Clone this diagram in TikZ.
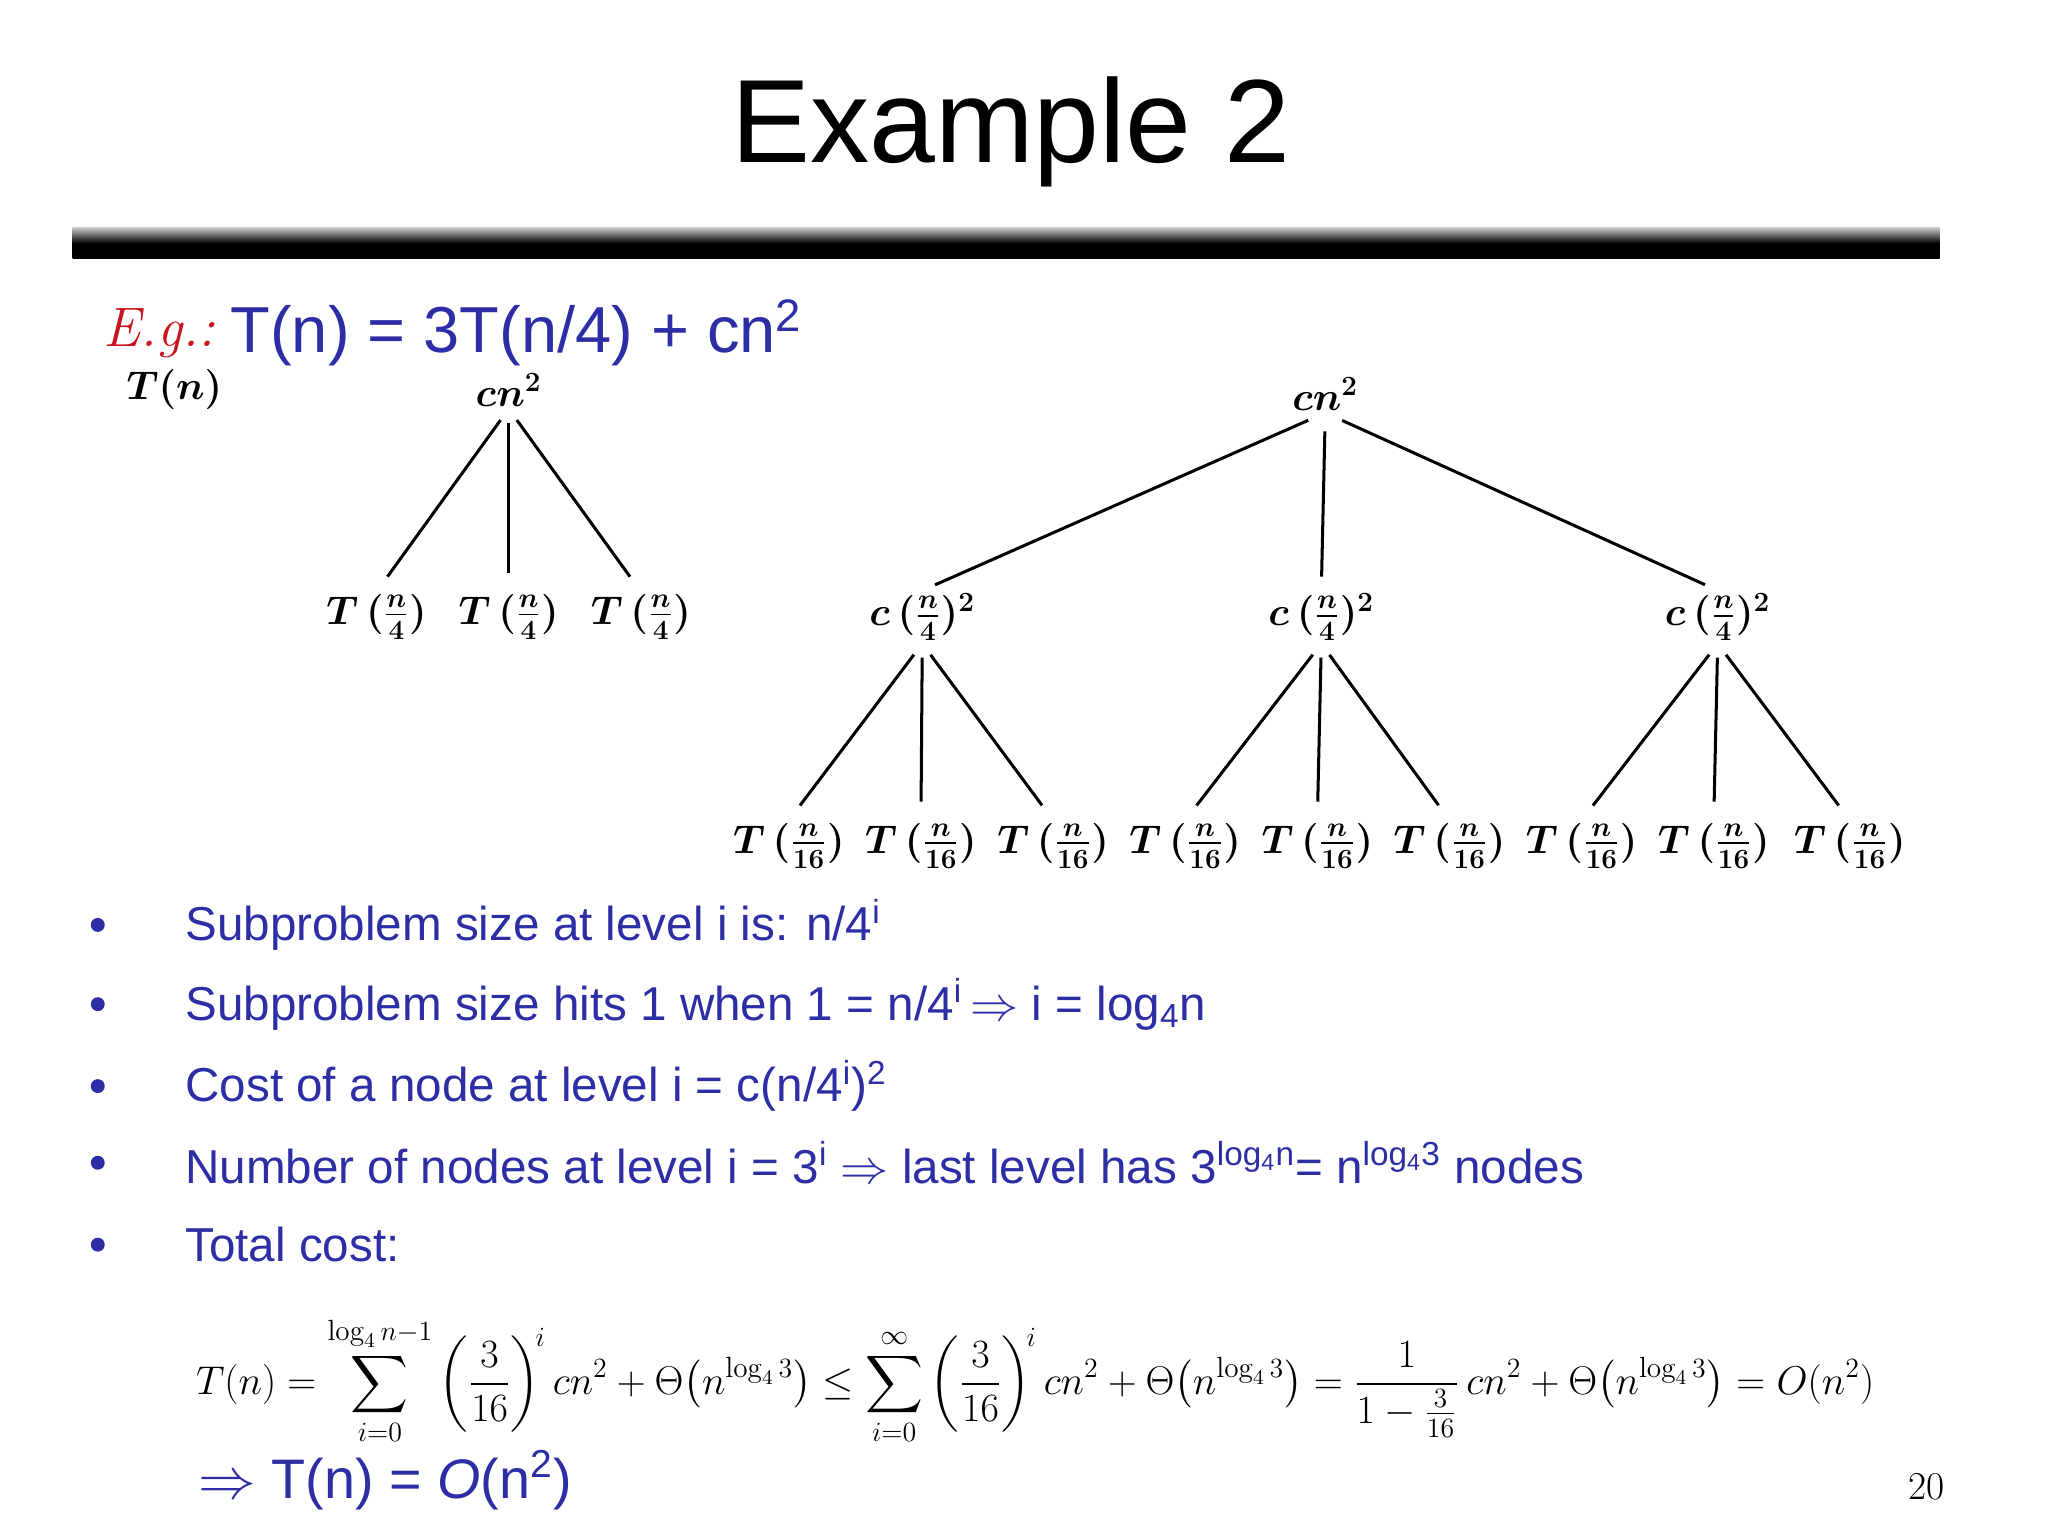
\documentclass[tikz,border=0pt]{standalone}
\usepackage{amsmath}
\usepackage{fontspec}
\newfontfamily\slidefont{Liberation Sans}
\usetikzlibrary{positioning}
\definecolor{slideblue}{RGB}{45,45,165}
\definecolor{egred}{RGB}{200,20,30}
\begin{document}
\begin{tikzpicture}[x=0.02cm,y=-0.02cm,
	treelabel/.style={inner sep=1pt,font=\fontsize{17}{20}\selectfont\boldmath},
	bullettext/.style={anchor=west,inner sep=0pt,text=slideblue,font=\slidefont\fontsize{20.5}{24}\selectfont},
	bulletdot/.style={circle,fill=slideblue,inner sep=0pt,minimum size=6pt},
	edge/.style={line width=1.3pt}
	]
	\useasboundingbox (0,0) rectangle (1550,1162);
	% title and bar
	\node[font=\slidefont\fontsize{51}{56}\selectfont] (title) at (765,100) {Example 2};
	\shade[top color=gray!40,bottom color=black,middle color=black] (55,172) rectangle (1468,196);
	% recurrence
	\node[anchor=west,inner sep=0pt,text=egred,font=\fontsize{24}{28}\selectfont\itshape] (eg) at (78,252) {E.g.:};
	\node[anchor=west,inner sep=0pt,text=slideblue,font=\slidefont\fontsize{28}{32}\selectfont,right=6pt of eg] (rec) {T(n) = 3T(n/4) + cn\textsuperscript{2}};
	% left tree
	\node[treelabel] (tn) at (132,295) {$T(n)$};
	\node[treelabel] (lroot) at (385,295) {$cn^2$};
	\foreach \x/\nm in {285/la,385/lb,485/lc}
		\node[treelabel] (\nm) at (\x,467) {$T\,(\frac{n}{4})$};
	\foreach \nm in {la,lb,lc}
		\draw[edge,shorten <=6pt,shorten >=8pt] (lroot.south) -- (\nm.north);
	% right tree
	\node[treelabel] (rroot) at (1003,298) {$cn^2$};
	\foreach \x/\nm in {698/ra,1000/rb,1300/rc}
		\node[treelabel] (\nm) at (\x,467) {$c\,(\frac{n}{4})^2$};
	\foreach \nm in {ra,rb,rc}
		\draw[edge,shorten <=8pt,shorten >=6pt] (rroot.south) -- (\nm.north);
	\foreach \x/\nm/\p in {597/g1/ra,697/g2/ra,797/g3/ra,897/g4/rb,997/g5/rb,1097/g6/rb,1197/g7/rc,1297/g8/rc,1400/g9/rc}{
		\node[treelabel] (\nm) at (\x,640) {$T\,(\frac{n}{16})$};
		\draw[edge,shorten <=6pt,shorten >=8pt] (\p.south) -- (\nm.north);
	}
	% bullets
	\foreach \y/\nm/\txt in {
		700/b1/{Subproblem size at level i is: n/4\textsuperscript{i}},
		760/b2/{Subproblem size hits 1 when 1 = n/4\textsuperscript{i}\,$\Rightarrow$ i = log\textsubscript{4}n},
		822/b3/{Cost of a node at level i = c(n/4\textsuperscript{i})\textsuperscript{2}},
		880/b4/{Number of nodes at level i = 3\textsuperscript{i} $\Rightarrow$ last level has 3\textsuperscript{log\textsubscript{4}n}= n\textsuperscript{log\textsubscript{4}3} nodes},
		942/b5/{Total cost:}}{
		\node[bulletdot] (\nm dot) at (74,\y) {};
		\node[bullettext] (\nm) at (140,\y) {\txt};
	}
	% total cost formula
	\node[anchor=west,inner sep=0pt,font=\fontsize{18}{22}\selectfont] (sum) at (148,1045)
		{$\displaystyle T(n)=\sum_{i=0}^{\log_4 n-1}\left(\frac{3}{16}\right)^{\!i} cn^2+\Theta\bigl(n^{\log_4 3}\bigr)\le\sum_{i=0}^{\infty}\left(\frac{3}{16}\right)^{\!i} cn^2+\Theta\bigl(n^{\log_4 3}\bigr)=\frac{1}{1-\frac{3}{16}}\,cn^2+\Theta\bigl(n^{\log_4 3}\bigr)=O(n^2)$};
	\node[anchor=west,inner sep=0pt,text=slideblue,font=\slidefont\fontsize{24}{28}\selectfont] (result) at (150,1120) {$\Rightarrow$ T(n) = \textit{O}(n\textsuperscript{2})};
	\node[font=\fontsize{17}{20}\selectfont] (page) at (1458,1125) {20};
\end{tikzpicture}
\end{document}
